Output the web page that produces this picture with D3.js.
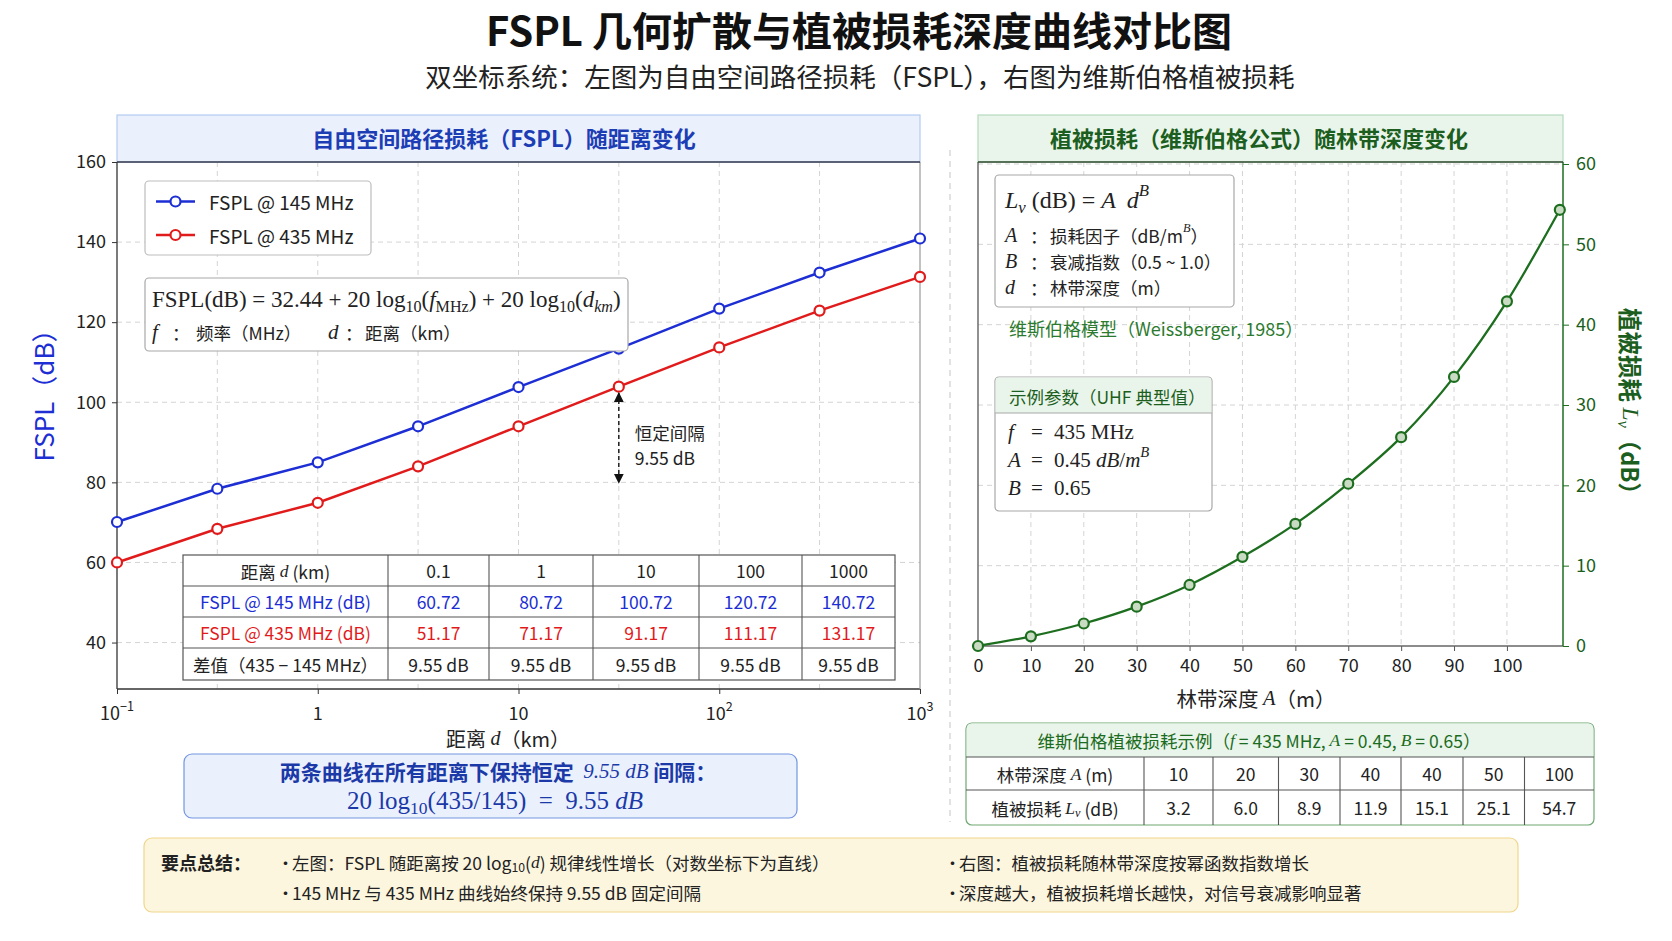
<!DOCTYPE html>
<html>
<head>
<meta charset="utf-8">
<script src="https://cdn.jsdelivr.net/npm/d3@7"></script>
<style>
  body { margin: 0; background: #ffffff; }
  svg text { white-space: pre; }
</style>
</head>
<body>
<script>
// values
var fspl_dist = [0.1, 0.316, 1, 3.16, 10, 31.6, 100, 316, 1000];
var fspl_145 = [70.1, 78.4, 85.0, 94.0, 103.8, 113.4, 123.4, 132.4, 140.9];
var fspl_435 = [60.0, 68.4, 74.9, 84.0, 94.0, 103.9, 113.7, 122.9, 131.3];
var fspl_y_ticks = [40, 60, 80, 100, 120, 140, 160];
var fspl_x_ticks = [0.1, 1, 10, 100, 1000];
var fspl_x_labels = [["10", "−1"], ["1", ""], ["10", ""], ["10", "2"], ["10", "3"]];
var gap_arrow = [31.6, 102.3, 79.9]; // x, top, bottom

var table_dist = ["0.1", "1", "10", "100", "1000"];
var table_145 = ["60.72", "80.72", "100.72", "120.72", "140.72"];
var table_435 = ["51.17", "71.17", "91.17", "111.17", "131.17"];
var table_diff = ["9.55 dB", "9.55 dB", "9.55 dB", "9.55 dB", "9.55 dB"];

var veg_depth = [0, 10, 20, 30, 40, 50, 60, 70, 80, 90, 100, 110];
var veg_loss = [0, 1.2, 2.8, 4.9, 7.6, 11.1, 15.2, 20.2, 26.0, 33.5, 42.9, 54.3];
var veg_y_ticks = [0, 10, 20, 30, 40, 50, 60];
var veg_x_ticks = [0, 10, 20, 30, 40, 50, 60, 70, 80, 90, 100];

var veg_table_depth = ["10", "20", "30", "40", "40", "50", "100"];
var veg_table_loss = ["3.2", "6.0", "8.9", "11.9", "15.1", "25.1", "54.7"];

var W = 1672, H = 941;
var sans = "'Noto Sans CJK SC', 'Noto Sans', sans-serif";
var serif = "'Liberation Serif', 'DejaVu Serif', serif";
var blue = "#1c2ed4", red = "#e11b1b", green = "#1d6e1f", green_txt = "#2b7a2e";
var grid_color = "#d4d4d4";

var svg = d3.select("body").append("svg").attr("width", W).attr("height", H)
    .style("font-family", sans);

/// helpers
var place_text = function(parent, text, x, y, size, color, anchor, weight){
  return parent.append("text")
      .attr("x", x).attr("y", y)
      .attr("font-size", size)
      .attr("fill", color || "#222")
      .attr("text-anchor", anchor || "start")
      .attr("font-weight", weight || "normal")
      .attr("dominant-baseline", "central")
      .text(text);
}

// parts: {t, it, serif, sub, sup, bold, color}
var place_rich = function(parent, parts, x, y, size, color, anchor, weight){
  var t = parent.append("text")
      .attr("x", x).attr("y", y)
      .attr("font-size", size)
      .attr("fill", color || "#222")
      .attr("text-anchor", anchor || "start")
      .attr("font-weight", weight || "normal")
      .attr("dominant-baseline", "central");
  var shift = 0;
  parts.forEach(function(p){
    var target = p.sub ? size*0.3 : (p.sup ? -size*0.4 : 0);
    var s = t.append("tspan").attr("dy", target - shift).text(p.t);
    shift = target;
    if (p.sub || p.sup) s.attr("font-size", size*0.7);
    if (p.serif || p.it) s.attr("font-family", serif);
    if (p.it) s.attr("font-style", "italic");
    if (p.bold) s.attr("font-weight", "bold");
    if (p.color) s.attr("fill", p.color);
  });
  return t;
}

var place_box = function(parent, x, y, w, h, fill, stroke, rx){
  return parent.append("rect")
      .attr("x", x).attr("y", y).attr("width", w).attr("height", h)
      .attr("rx", rx || 0)
      .style("fill", fill).style("stroke", stroke).style("stroke-width", 1.2);
}

var place_line = function(parent, x1, y1, x2, y2, color, width, dash){
  return parent.append("line")
      .attr("x1", x1).attr("y1", y1).attr("x2", x2).attr("y2", y2)
      .style("stroke", color).style("stroke-width", width || 1)
      .style("stroke-dasharray", dash || null);
}

// rows = list of rows, each row a list of cells (string or parts list)
var draw_table = function(parent, col_x, row_y, rows, row_colors, size, line_color){
  rows.forEach(function(row, r){
    row.forEach(function(cell, c){
      var cx = (col_x[c] + col_x[c+1])/2;
      var cy = (row_y[r] + row_y[r+1])/2;
      if (typeof cell === "string") place_text(parent, cell, cx, cy, size, row_colors[r], "middle");
      else place_rich(parent, cell, cx, cy, size, row_colors[r], "middle");
    });
  });
  col_x.slice(1, -1).forEach(function(x){
    place_line(parent, x, row_y[0], x, row_y[row_y.length-1], line_color, 1.1);
  });
  row_y.slice(1, -1).forEach(function(y){
    place_line(parent, col_x[0], y, col_x[col_x.length-1], y, line_color, 1.1);
  });
}

var arrow_head = function(id, color){
  svg.append("defs").append("marker")
      .attr("id", id).attr("viewBox", "0 0 10 10")
      .attr("refX", 9).attr("refY", 5)
      .attr("markerWidth", 7).attr("markerHeight", 7)
      .attr("orient", "auto-start-reverse")
      .append("path").attr("d", "M0,0 L10,5 L0,10 z").style("fill", color);
}

/// title
place_text(svg, "FSPL 几何扩散与植被损耗深度曲线对比图", 859, 29, 40, "#111", "middle", "bold");
place_text(svg, "双坐标系统：左图为自由空间路径损耗（FSPL），右图为维斯伯格植被损耗", 860, 75, 26.5, "#222", "middle");

/// ---------------- left panel : FSPL ----------------
var L = {x0: 117, x1: 920, y0: 162, y1: 689};
var x_fspl = d3.scaleLog().domain([0.1, 1000]).range([L.x0, L.x1]);
var y_fspl = d3.scaleLinear().domain([28.4, 160]).range([L.y1, L.y0]);

var left = svg.append("g");
place_box(left, L.x0, 115, L.x1 - L.x0, 47, "#eaf1fd", "#b3cbf2");
place_text(left, "自由空间路径损耗（FSPL）随距离变化", 504, 137, 22, "#1d3db5", "middle", "bold");

// grid
left.append("g").selectAll("line").data(fspl_y_ticks.slice(0, -1)).join("line")
    .attr("x1", L.x0).attr("x2", L.x1)
    .attr("y1", function(d){ return y_fspl(d); }).attr("y2", function(d){ return y_fspl(d); })
    .style("stroke", grid_color).style("stroke-dasharray", "5,4");
left.append("g").selectAll("line").data(fspl_dist.slice(1, -1)).join("line")
    .attr("x1", function(d){ return x_fspl(d); }).attr("x2", function(d){ return x_fspl(d); })
    .attr("y1", L.y0).attr("y2", L.y1)
    .style("stroke", grid_color).style("stroke-dasharray", "5,4");

// axes
var y_axis_l = left.append("g").attr("transform", "translate(" + L.x0 + ",0)")
    .call(d3.axisLeft(y_fspl).tickValues(fspl_y_ticks).tickSize(5).tickPadding(6));
y_axis_l.selectAll("text").attr("font-size", 18).attr("fill", "#222").attr("font-family", sans);
y_axis_l.select(".domain").remove();
y_axis_l.selectAll("line").style("stroke", "#333");

var x_axis_l = left.append("g").attr("transform", "translate(0," + L.y1 + ")")
    .call(d3.axisBottom(x_fspl).tickValues(fspl_x_ticks).tickSize(5).tickFormat(""));
x_axis_l.select(".domain").remove();
x_axis_l.selectAll("line").style("stroke", "#333");
fspl_x_ticks.forEach(function(d, i){
  var lab = fspl_x_labels[i];
  place_rich(left, [{t: lab[0]}, {t: lab[1], sup: true}], x_fspl(d), 712, 18, "#222", "middle");
});

place_line(left, L.x0, L.y0, L.x0, L.y1, "#333", 1.3);
place_line(left, L.x0, L.y1, L.x1, L.y1, "#333", 1.3);
place_line(left, L.x1, L.y0, L.x1, L.y1, "#999", 1.2);
place_line(left, L.x0, L.y0, L.x1, L.y0, "#34394a", 1.5);

place_rich(left, [{t: "距离 "}, {t: "d", it: true}, {t: "（km）"}], 508, 738, 20, "#222", "middle");
place_text(left, "FSPL（dB）", 0, 0, 26, blue, "middle")
    .attr("transform", "translate(42,389) rotate(-90)");

// series
var series = [{v: fspl_145, c: blue, name: "FSPL @ 145 MHz"},
              {v: fspl_435, c: red, name: "FSPL @ 435 MHz"}];
var line_fspl = d3.line()
    .x(function(d, i){ return x_fspl(fspl_dist[i]); })
    .y(function(d){ return y_fspl(d); });
series.forEach(function(s){
  left.append("path").datum(s.v).attr("d", line_fspl)
      .style("fill", "none").style("stroke", s.c).style("stroke-width", 2.5);
  left.append("g").selectAll("circle").data(s.v).join("circle")
      .attr("cx", function(d, i){ return x_fspl(fspl_dist[i]); })
      .attr("cy", function(d){ return y_fspl(d); })
      .attr("r", 5).style("fill", "#fff").style("stroke", s.c).style("stroke-width", 2.2);
});

// legend
place_box(left, 145, 181, 226, 74, "#fff", "#bdbdbd", 4);
series.forEach(function(s, i){
  var ly = 201.5 + i*33.5;
  place_line(left, 156, ly, 195, ly, s.c, 2.5);
  left.append("circle").attr("cx", 175.5).attr("cy", ly).attr("r", 5)
      .style("fill", "#fff").style("stroke", s.c).style("stroke-width", 2.2);
  place_text(left, s.name, 209, ly, 19, "#222");
});

// formula box
place_box(left, 145, 278, 483, 73, "#fff", "#a8a8a8", 4);
place_rich(left, [
  {t: "FSPL(dB) = 32.44 + 20 log", serif: true}, {t: "10", sub: true, serif: true},
  {t: "(", serif: true}, {t: "f", it: true}, {t: "MHz", sub: true, serif: true},
  {t: ") + 20 log", serif: true}, {t: "10", sub: true, serif: true},
  {t: "(", serif: true}, {t: "d", it: true}, {t: "km", sub: true, it: true}, {t: ")", serif: true}
], 152, 299, 23, "#222");
place_rich(left, [{t: "f", it: true}], 152, 332, 21, "#222");
place_text(left, "：", 172, 332, 17.5, "#222");
place_text(left, "频率（MHz）", 196, 332, 17.5, "#222");
place_rich(left, [{t: "d", it: true}], 328, 332, 21, "#222");
place_text(left, "：", 345, 332, 17.5, "#222");
place_text(left, "距离（km）", 365, 332, 17.5, "#222");

// gap arrow
arrow_head("arr_black", "#111");
left.append("line")
    .attr("x1", x_fspl(gap_arrow[0])).attr("x2", x_fspl(gap_arrow[0]))
    .attr("y1", y_fspl(gap_arrow[1])).attr("y2", y_fspl(gap_arrow[2]))
    .style("stroke", "#111").style("stroke-width", 1.4).style("stroke-dasharray", "4,3")
    .attr("marker-start", "url(#arr_black)").attr("marker-end", "url(#arr_black)");
place_text(left, "恒定间隔", x_fspl(gap_arrow[0]) + 16, y_fspl(92.5), 17.5, "#222");
place_text(left, "9.55 dB", x_fspl(gap_arrow[0]) + 16, y_fspl(86.3), 17.5, "#222");

// data table
var t_cols = [183, 388, 489, 593, 699, 802, 895];
var t_rows = [555, 586, 617, 648, 680];
left.append("rect").attr("x", t_cols[0]).attr("y", t_rows[0])
    .attr("width", t_cols[6] - t_cols[0]).attr("height", t_rows[4] - t_rows[0])
    .style("fill", "#fff").style("stroke", "#555").style("stroke-width", 1.2);
draw_table(left, t_cols, t_rows, [
  [[{t: "距离 "}, {t: "d", it: true}, {t: " (km)"}]].concat(table_dist),
  ["FSPL @ 145 MHz (dB)"].concat(table_145),
  ["FSPL @ 435 MHz (dB)"].concat(table_435),
  ["差值（435 − 145 MHz）"].concat(table_diff)
], ["#222", blue, red, "#222"], 17.5, "#555");

// note box under the chart
place_box(left, 184, 754, 613, 64, "#eaf1fd", "#7395e0", 8);
place_rich(left, [
  {t: "两条曲线在所有距离下保持恒定  ", bold: true},
  {t: "9.55 ", it: true}, {t: "dB", it: true}, {t: " 间隔：", bold: true}
], 498, 771, 21, "#1c39a8", "middle");
place_rich(left, [
  {t: "20 log", serif: true}, {t: "10", sub: true, serif: true},
  {t: "(435/145)  =  9.55 ", serif: true}, {t: "dB", it: true}
], 495, 800, 25, "#1c39a8", "middle");

// separator
place_line(svg, 950, 150, 950, 822, "#cfcfcf", 1.2, "6,5");

/// ---------------- right panel : vegetation ----------------
var R = {x0: 978, x1: 1563, y0: 162, y1: 646};
var x_veg = d3.scaleLinear().domain([0, 110.6]).range([R.x0, R.x1]);
var y_veg = d3.scaleLinear().domain([0, 60]).range([R.y1, 164]);

var right = svg.append("g");
place_box(right, R.x0, 115, R.x1 - R.x0, 47, "#e9f5eb", "#b5dbbd");
place_text(right, "植被损耗（维斯伯格公式）随林带深度变化", 1259, 137, 22, "#1b5e20", "middle", "bold");

right.append("g").selectAll("line").data(veg_y_ticks.slice(1)).join("line")
    .attr("x1", R.x0).attr("x2", R.x1)
    .attr("y1", function(d){ return y_veg(d); }).attr("y2", function(d){ return y_veg(d); })
    .style("stroke", grid_color).style("stroke-dasharray", "5,4");
right.append("g").selectAll("line").data(veg_x_ticks.slice(1)).join("line")
    .attr("x1", function(d){ return x_veg(d); }).attr("x2", function(d){ return x_veg(d); })
    .attr("y1", R.y0).attr("y2", R.y1)
    .style("stroke", grid_color).style("stroke-dasharray", "5,4");

var y_axis_r = right.append("g").attr("transform", "translate(" + R.x1 + ",0)")
    .call(d3.axisRight(y_veg).tickValues(veg_y_ticks).tickSize(6).tickPadding(7));
y_axis_r.select(".domain").remove();
y_axis_r.selectAll("line").style("stroke", green);
y_axis_r.selectAll("text").attr("font-size", 18).attr("fill", "#1b5e20").attr("font-family", sans);

var x_axis_r = right.append("g").attr("transform", "translate(0," + R.y1 + ")")
    .call(d3.axisBottom(x_veg).tickValues(veg_x_ticks).tickSize(5).tickPadding(8));
x_axis_r.select(".domain").remove();
x_axis_r.selectAll("line").style("stroke", "#555");
x_axis_r.selectAll("text").attr("font-size", 18).attr("fill", "#222").attr("font-family", sans);

place_line(right, R.x0, R.y0, R.x0, R.y1, "#555", 1.3);
place_line(right, R.x0, R.y1, R.x1, R.y1, "#666", 1.3);
place_line(right, R.x1, R.y0, R.x1, R.y1, green, 1.5);
place_line(right, R.x0, R.y0, R.x1, R.y0, "#2f4a31", 1.5);

place_rich(right, [{t: "林带深度 "}, {t: "A", it: true}, {t: "（m）"}], 1256, 698, 20.5, "#222", "middle");
place_rich(right, [{t: "植被损耗 ", bold: true}, {t: "L", it: true}, {t: "v", sub: true, it: true}, {t: "（dB）", bold: true}],
    0, 0, 23.5, "#1b5e20", "middle").attr("transform", "translate(1631,407) rotate(90)");

var line_veg = d3.line()
    .x(function(d, i){ return x_veg(veg_depth[i]); })
    .y(function(d){ return y_veg(d); })
    .curve(d3.curveMonotoneX);
right.append("path").datum(veg_loss).attr("d", line_veg)
    .style("fill", "none").style("stroke", green).style("stroke-width", 2.3);
right.append("g").selectAll("circle").data(veg_loss).join("circle")
    .attr("cx", function(d, i){ return x_veg(veg_depth[i]); })
    .attr("cy", function(d){ return y_veg(d); })
    .attr("r", 5).style("fill", "#c9dcc3").style("stroke", green).style("stroke-width", 2.2);

// formula box
place_box(right, 995, 175, 239, 132, "#fff", "#a8a8a8", 4);
place_rich(right, [{t: "L", it: true}, {t: "v", sub: true, it: true}, {t: " (dB) = ", serif: true},
  {t: "A", it: true}, {t: "  "}, {t: "d", it: true}, {t: "B", sup: true, it: true}], 1005, 200, 24, "#222");
var veg_defs = [["A", [{t: "损耗因子（dB/m"}, {t: "B", sup: true, it: true}, {t: "）"}], 235],
                ["B", [{t: "衰减指数（0.5 ~ 1.0）"}], 261],
                ["d", [{t: "林带深度（m）"}], 287]];
veg_defs.forEach(function(r){
  place_rich(right, [{t: r[0], it: true}], 1005, r[2], 20, "#222");
  place_text(right, "：", 1030, r[2], 17.5, "#222");
  place_rich(right, r[1], 1050, r[2], 17.5, "#222");
});
place_text(right, "维斯伯格模型（Weissberger, 1985）", 1009, 328, 18, green_txt);

// example params box
place_box(right, 995, 377, 217, 134, "#fff", "#a8a8a8", 4);
right.append("path")
    .attr("d", "M995.6,413 L995.6,381 Q995.6,377.6 999,377.6 L1208,377.6 Q1211.4,377.6 1211.4,381 L1211.4,413 Z")
    .style("fill", "#e9f5eb");
place_line(right, 995, 413, 1212, 413, "#a8a8a8", 1.2);
place_text(right, "示例参数（UHF 典型值）", 1009, 396, 17.5, "#1b5e20");
var params = [["f", [{t: "435 MHz", serif: true}], 432],
              ["A", [{t: "0.45 ", serif: true}, {t: "dB", it: true}, {t: "/", serif: true}, {t: "m", it: true}, {t: "B", sup: true, it: true}], 460],
              ["B", [{t: "0.65", serif: true}], 488]];
params.forEach(function(p){
  place_rich(right, [{t: p[0], it: true}], 1008, p[2], 21, "#222");
  place_rich(right, [{t: "=", serif: true}], 1031, p[2], 21, "#222");
  place_rich(right, p[1], 1054, p[2], 21, "#222");
});

// vegetation table
var v_cols = [966, 1144, 1213, 1278.5, 1340, 1401, 1463, 1524.5, 1594];
var v_rows = [723, 757, 790, 825];
place_box(right, v_cols[0], v_rows[0], v_cols[8] - v_cols[0], v_rows[3] - v_rows[0], "#fff", "#6ea873", 6);
right.append("path")
    .attr("d", "M966.6,757 L966.6,729 Q966.6,723.6 972,723.6 L1588,723.6 Q1593.4,723.6 1593.4,729 L1593.4,757 Z")
    .style("fill", "#e9f5eb");
place_line(right, v_cols[0], v_rows[1], v_cols[8], v_rows[1], "#555", 1.2);
place_rich(right, [{t: "维斯伯格植被损耗示例（"}, {t: "f", it: true}, {t: " = 435 MHz, "},
  {t: "A", it: true}, {t: " = 0.45, "}, {t: "B", it: true}, {t: " = 0.65）"}], 1259, 740, 17.5, "#1b6b20", "middle");
draw_table(right, v_cols, v_rows.slice(1), [
  [[{t: "林带深度 "}, {t: "A", it: true}, {t: " (m)"}]].concat(veg_table_depth),
  [[{t: "植被损耗 "}, {t: "L", it: true}, {t: "v", sub: true, it: true}, {t: " (dB)"}]].concat(veg_table_loss)
], ["#222", "#222"], 17.5, "#555");

/// ---------------- summary ----------------
place_box(svg, 144, 838, 1374, 74, "#fdf6df", "#f1d58c", 8);
place_text(svg, "要点总结：", 161, 862, 18, "#222", "start", "bold");
var notes = [
  [277, 862, [{t: "左图：FSPL 随距离按 20 log"}, {t: "10", sub: true}, {t: "("}, {t: "d", it: true}, {t: ") 规律线性增长（对数坐标下为直线）"}]],
  [277, 892, [{t: "145 MHz 与 435 MHz 曲线始终保持 9.55 dB 固定间隔"}]],
  [944, 862, [{t: "右图：植被损耗随林带深度按幂函数指数增长"}]],
  [944, 892, [{t: "深度越大，植被损耗增长越快，对信号衰减影响显著"}]]
];
notes.forEach(function(n){
  place_text(svg, "•", n[0], n[1], 17, "#222");
  place_rich(svg, n[2], n[0] + 15, n[1], 17.5, "#222");
});
</script>
</body>
</html>
